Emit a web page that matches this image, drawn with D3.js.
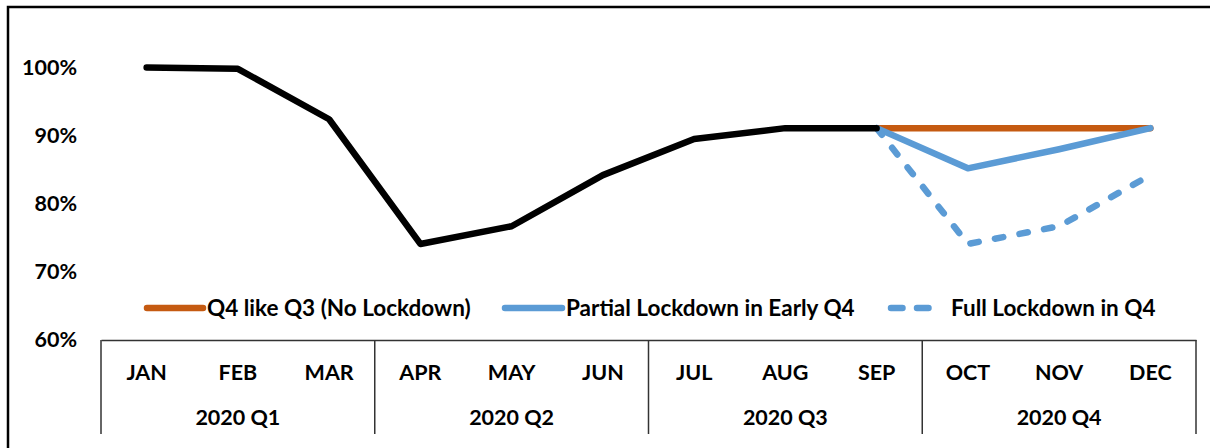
<!DOCTYPE html>
<html><head><meta charset="utf-8">
<script src="https://cdn.jsdelivr.net/npm/d3@7"></script>
<style>
body{margin:0;background:#fff}
svg text{font-family:Lato,'Liberation Sans',sans-serif;font-weight:bold;fill:#000}
</style>
</head><body>
<svg id="c" width="1210" height="448"></svg>
<script>
const months = ["JAN","FEB","MAR","APR","MAY","JUN","JUL","AUG","SEP","OCT","NOV","DEC"];
const quarters = ["2020 Q1","2020 Q2","2020 Q3","2020 Q4"];
const actualMonths = ["JAN","FEB","MAR","APR","MAY","JUN","JUL","AUG","SEP"];
const actual = [100, 99.8, 92.4, 74.1, 76.7, 84.2, 89.5, 91.1, 91.1];
const scenarioMonths = ["SEP","OCT","NOV","DEC"];
const noLockdown = [91.1, 91.1, 91.1, 91.1];
const partialLockdown = [91.1, 85.2, 88.0, 91.1];
const fullLockdown = [91.1, 74.1, 76.7, 84.2];
const yTicks = [60, 70, 80, 90, 100];
const seriesNames = ["Q4 like Q3 (No Lockdown)", "Partial Lockdown in Early Q4", "Full Lockdown in Q4"];

const BLACK = "#000000", ORANGE = "#C55A11", BLUE = "#5B9BD5";
const svg = d3.select("#c");
const L = 101, R = 1196, B = 340, T = 67.5, BOX_B = 434;
const AXIS_FS = 21.5, LEG_FS = 22.5;

// outer frame
svg.append("rect").attr("x", 8).attr("y", 7).attr("width", 1400).attr("height", 600)
  .attr("fill", "none").attr("stroke", "#000").attr("stroke-width", 2.5);

const x = d3.scaleBand().domain(months).range([L, R]).padding(0);
const xc = m => x(m) + x.bandwidth() / 2;
const y = d3.scaleLinear().domain([60, 100]).range([B, T]);

// y axis
const ya = svg.append("g").attr("transform", `translate(${L},0)`)
  .call(d3.axisLeft(y).tickValues(yTicks).tickFormat(d => d + "%").tickSize(0).tickPadding(24));
ya.select(".domain").remove();
ya.selectAll("text").attr("font-size", AXIS_FS).attr("font-family", null);

// x axis
const xa = svg.append("g").attr("transform", `translate(0,${B})`)
  .call(d3.axisBottom(x).tickSize(0).tickSizeOuter(0));
xa.select(".domain").attr("stroke", "#333").attr("stroke-width", 1.5);
xa.selectAll("text").attr("y", 32).attr("dy", "0.35em").attr("font-size", AXIS_FS).attr("font-family", null);

// quarter separators
const sepX = [0, 3, 6, 9].map(i => x(months[i])).concat([R]);
svg.append("g").selectAll("line").data(sepX).join("line")
  .attr("x1", d => d).attr("x2", d => d).attr("y1", B).attr("y2", BOX_B)
  .attr("stroke", "#333").attr("stroke-width", 1.5);

// quarter labels
svg.append("g").selectAll("text").data(quarters).join("text")
  .attr("x", (d, i) => (x(months[i * 3]) + x(months[i * 3 + 2]) + x.bandwidth()) / 2)
  .attr("y", 417).attr("dy", "0.35em").attr("text-anchor", "middle").attr("font-size", AXIS_FS)
  .text(d => d);

// lines
const line = d3.line().x(d => xc(d[0])).y(d => y(d[1]));
const zipS = vals => scenarioMonths.map((m, i) => [m, vals[i]]);
function drawLine(data, color, dash) {
  svg.append("path").datum(data).attr("d", line).attr("fill", "none")
    .attr("stroke", color).attr("stroke-width", 6.5)
    .attr("stroke-linecap", "round").attr("stroke-linejoin", "round")
    .attr("stroke-dasharray", dash || null);
}
drawLine(zipS(noLockdown), ORANGE);
drawLine(zipS(partialLockdown), BLUE);
drawLine(zipS(fullLockdown), BLUE, "8.5,16.5");
drawLine(actualMonths.map((m, i) => [m, actual[i]]), BLACK);

// legend
const legendItems = [
  {name: seriesNames[0], color: ORANGE, dash: null, x0: 147, x1: 203, tx: 207},
  {name: seriesNames[1], color: BLUE, dash: null, x0: 505, x1: 562, tx: 566},
  {name: seriesNames[2], color: BLUE, dash: "11.5,14.5", x0: 891, x1: 935, tx: 951}
];
const lg = svg.append("g").selectAll("g").data(legendItems).join("g");
lg.append("line").attr("x1", d => d.x0).attr("x2", d => d.x1).attr("y1", 308).attr("y2", 308)
  .attr("stroke", d => d.color).attr("stroke-width", 6.5).attr("stroke-linecap", "round")
  .attr("stroke-dasharray", d => d.dash);
lg.append("text").attr("x", d => d.tx).attr("y", 308).attr("dy", "0.35em").attr("font-size", LEG_FS)
  .text(d => d.name);
</script>
</body></html>
